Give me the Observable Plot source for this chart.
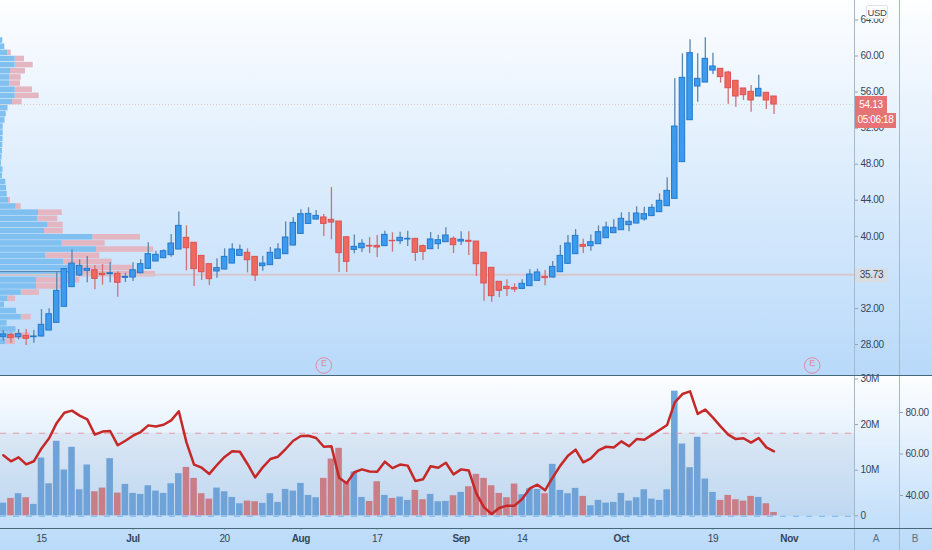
<!DOCTYPE html>
<html>
<head>
<meta charset="utf-8">
<script src="https://cdn.jsdelivr.net/npm/d3@7"></script>
<script src="https://cdn.jsdelivr.net/npm/@observablehq/plot@0.6"></script>
<style>
html,body{margin:0;padding:0;background:#fff;}
#chart{position:relative;width:932px;height:550px;overflow:hidden;
background:linear-gradient(to bottom,#fdfeff 0,#b8d9fa 376px,#fdfeff 376px,#b9daf9 550px);
font-family:"Liberation Sans",sans-serif;}
#chart svg{position:absolute;left:0;background:transparent;}
.ln{position:absolute;}
.badge{position:absolute;text-align:center;font-size:10px;letter-spacing:-.35px;box-sizing:border-box;}
</style>
</head>
<body>
<div id="chart"></div>
<script>
const firstIndex = -5;
const opens = [
28.85,29.04,28.81,28.96,28.81,
28.89,29.55,30.40,32.18,34.36,
35.65,36.17,36.24,35.84,35.80,
35.84,35.39,35.43,35.91,36.39,
37.21,37.58,37.91,38.54,39.83,
39.28,37.83,36.91,36.10,36.32,
36.98,37.83,38.17,37.72,36.69,
36.80,37.50,38.02,38.98,40.27,
41.38,41.86,42.09,41.83,41.64,
39.90,38.50,38.68,38.94,38.94,
38.91,39.50,39.46,39.65,39.72,
38.91,38.57,39.13,39.35,39.72,
39.42,39.50,39.42,38.17,36.50,
34.95,34.40,34.28,34.17,34.47,
35.06,35.50,35.43,36.02,36.95,
38.02,39.05,38.91,39.13,39.79,
40.35,40.68,41.24,41.42,41.87,
42.24,42.68,43.34,44.16,48.23,
52.88,56.62,57.06,58.39,58.58,
58.17,57.25,56.40,56.03,55.51,
55.92,55.51];
const closes = [
29.11,28.70,29.15,28.63,28.89,
30.18,31.36,33.95,36.36,36.98,
36.72,36.39,35.28,35.69,35.91,
34.84,35.50,36.24,36.91,38.02,
37.95,38.35,39.20,41.16,38.68,
36.36,36.02,35.25,36.47,37.72,
38.54,38.50,37.35,35.65,36.98,
38.17,38.54,39.87,41.49,42.45,
42.49,42.27,41.38,41.53,38.13,
37.17,38.83,39.17,38.87,38.76,
40.16,39.46,39.83,39.72,38.17,
38.28,39.65,39.57,40.09,39.02,
39.61,39.39,36.91,34.77,33.36,
33.95,34.14,34.10,34.73,35.76,
35.99,35.36,36.61,37.83,39.20,
40.05,38.83,39.35,40.46,40.98,
40.94,41.94,41.61,42.53,42.46,
43.16,43.94,45.04,52.18,57.58,
60.32,57.47,59.69,58.84,57.66,
56.43,55.51,55.66,55.07,56.36,
55.07,54.62];
const highs = [
29.55,29.26,29.66,29.66,29.55,
31.88,31.96,35.95,36.43,38.50,
37.39,37.76,36.76,36.87,37.09,
36.06,35.91,37.06,37.39,39.28,
38.35,38.50,40.20,42.71,41.16,
39.28,37.83,36.91,37.50,38.61,
39.17,39.05,38.61,37.72,37.80,
38.76,39.17,41.60,42.05,42.94,
43.16,42.86,42.42,45.41,41.64,
39.90,40.16,39.61,39.87,40.09,
40.57,40.39,40.46,40.57,39.72,
39.05,40.42,40.13,40.94,39.94,
40.50,40.50,39.42,38.17,36.50,
34.95,35.17,34.73,35.17,36.28,
36.36,36.21,37.21,38.98,40.09,
40.75,39.68,40.16,41.16,41.57,
41.83,42.61,42.64,43.27,43.23,
43.53,44.71,46.49,57.47,60.24,
61.80,60.24,62.02,60.32,58.58,
58.32,57.25,56.40,56.73,57.87,
55.92,55.51];
const lows = [
28.37,28.15,28.52,27.89,28.15,
28.81,29.52,30.40,32.18,34.36,
35.54,34.84,34.06,34.58,34.84,
33.25,34.88,34.99,35.84,36.36,
37.17,37.50,37.69,38.50,36.17,
34.43,35.10,34.54,35.36,36.28,
36.95,37.76,35.95,34.99,36.13,
36.76,37.46,37.98,38.94,40.24,
41.31,41.83,39.98,39.61,35.99,
35.99,38.06,38.20,38.09,37.65,
38.87,38.24,39.09,38.87,37.21,
37.32,38.54,38.54,39.31,38.09,
38.98,37.87,35.54,32.81,32.70,
33.18,33.32,33.77,34.14,34.43,
35.02,34.51,35.39,35.99,36.91,
37.98,38.09,38.35,39.09,39.76,
40.31,40.65,40.50,41.39,41.68,
42.20,42.64,43.31,44.16,48.23,
52.88,54.88,57.06,57.95,56.99,
54.66,54.33,55.07,53.77,55.47,
54.07,53.51];
const volumesM = [
2.78,3.81,4.84,3.96,2.49,
12.67,7.03,16.34,10.04,15.02,
5.71,11.14,5.27,6.08,12.53,
4.98,6.89,4.91,4.69,6.59,
5.42,4.91,7.03,9.23,10.62,
8.21,4.84,3.66,6.08,5.27,
4.03,2.64,3.22,3.08,2.71,
4.84,2.93,5.79,5.42,7.11,
4.47,3.96,8.21,12.45,14.8,
7.25,9.6,4.03,3.15,7.47,
4.47,3.81,4.1,3.37,5.57,
3.52,4.69,3.08,3.15,4.4,
5.13,6.37,9.08,8.21,6.59,
4.91,3.96,6.96,4.62,5.93,
5.79,4.84,11.28,5.57,4.84,
6.01,4.25,2.2,3.37,2.78,
2.93,4.91,3.22,3.96,5.71,
3.66,3.37,5.71,27.33,15.75,
10.55,17.22,8.06,5.13,3.37,
4.47,3.52,3.22,4.25,4.03,
2.64,0.73];
const rsiValues = [
59.4,56.5,58.4,55.0,56.5,
62.7,67.6,75.0,79.9,80.9,
78.5,76.7,69.3,70.8,71.1,
64.2,66.4,68.8,70.6,73.8,
73.3,74.1,76.2,80.6,65.6,
54.9,53.4,50.4,54.7,58.6,
61.3,61.1,55.2,48.7,53.6,
57.6,58.7,62.4,66.4,68.7,
68.8,67.7,63.5,63.7,48.6,
45.9,51.2,52.6,51.6,51.5,
56.3,53.2,54.9,54.4,47.0,
47.8,54.1,53.4,55.8,50.2,
52.6,52.0,40.9,34.3,31.1,
34.0,35.1,35.1,38.3,43.4,
45.2,42.5,48.7,54.4,59.2,
62.1,56.0,57.9,61.8,63.5,
63.1,66.1,63.7,67.2,66.9,
69.2,71.6,74.0,84.9,88.9,
90.2,79.3,81.4,77.5,73.3,
69.3,67.2,67.6,65.5,67.7,
63.2,61.3];
// visible-range volume profile, top row first
const profileTopPrice = 62.06;
const profileRowHeight = 0.682;
const profileBuy = [
2.3,4.3,7.3,14.7,14.7,10,9.3,9.3,14.7,14.7,
12,7.3,5.7,4.5,2.7,2.7,2.5,2.3,2,1.5,
1,2.5,2,5.3,6,6.7,8,15.7,38,37.3,
47.7,44,92.3,61.7,96,45.3,63,70,70,36,
36,20.7,7.3,4,16,20.7,6.7,15,13,5];
const profileTotal = [
2.3,4.3,10.7,24,32.7,25,20.7,20,32,38.7,
21.7,7.7,5.7,4.5,2.7,2.7,2.5,2.3,2,1.5,
1,2.5,2,5.3,6,6.7,10,20.7,61.7,57.3,
62.7,62.7,140,104.7,153.3,99.3,111.7,132,155,79.3,
62.7,39,15,4,16,30.7,6.7,16,30,15];
const priceTicks = [28,32,40,44,48,52,56,60,64];
const volumeTicks = [0,10,20,30];
const rsiTicks = [40,60,80];
const dayTickIndex = [0,24,44,63,88];
const dayTickLabels = ["15","20","17","14","19"];
const monthTickIndex = [12,34,55,76,98];
const monthTickLabels = ["Jul","Aug","Sep","Oct","Nov"];
const earningsIndex = [37,101];
const keyLevel = 35.73, lastLine = 54.62, pocPrice = 36.1;
const rsiUpper = 70, rsiLower = 30;

const BLUE="#3d9bee", BLUE_EDGE="#2478cc", BLUE_WICK="#5a86b0";
const RED="#ee6a5f", RED_EDGE="#dc5254", RED_WICK="#cc7378";
const VOL_BLUE="#6fa7dd", VOL_RED="#d27e86";
const TEXT="#33465a";
const FONT='"Liberation Sans",sans-serif';

const candles = opens.map((o,j)=>({i:firstIndex+j,open:o,close:closes[j],high:highs[j],low:lows[j],
  vol:volumesM[j],rsi:rsiValues[j],up:closes[j]>=o}));
const rows = profileBuy.map((b,k)=>({b,t:profileTotal[k],
  top:profileTopPrice-k*profileRowHeight,bot:profileTopPrice-(k+1)*profileRowHeight}));

const chart=document.getElementById("chart");
const XL=-5.37, XR=106.55, XR2=112.45;
function add(svg,top){svg.style.top=top+"px";chart.appendChild(svg);}
const base={width:932,marginLeft:0,marginTop:0,style:{fontFamily:FONT,fontSize:"10px",letterSpacing:"-.35px",color:TEXT,background:"transparent",overflow:"visible"}};

// volume profile
add(Plot.plot({...base,height:376,marginRight:0,marginBottom:0,
  x:{domain:[0,932],axis:null},y:{domain:[24.45,66.16],axis:null},
  marks:[
    Plot.rect(rows.filter(r=>r.t>r.b),{x1:"b",x2:"t",y1:"bot",y2:"top",fill:"#e3b6c1",insetTop:.3,insetBottom:.3}),
    Plot.rect(rows,{x1:0,x2:"b",y1:"bot",y2:"top",fill:"#7fc0f1",insetTop:.3,insetBottom:.3}),
    Plot.ruleY([pocPrice],{x1:()=>0,x2:()=>68,stroke:"#5a88b0",strokeWidth:1.2})
  ]}),0);

// price pane
add(Plot.plot({...base,height:376,marginRight:78,marginBottom:0,
  x:{domain:[XL,XR],axis:null},y:{domain:[24.45,66.16],label:null},
  marks:[
    Plot.ruleY([keyLevel],{stroke:"#d9c8cb",strokeWidth:2}),
    Plot.ruleY([lastLine],{stroke:"#dccdcd",strokeWidth:1,strokeDasharray:"1 2"}),
    Plot.ruleX(candles,{x:"i",y1:"low",y2:"high",stroke:d=>d.up?BLUE_WICK:RED_WICK,strokeWidth:1.3}),
    Plot.rect(candles,{x1:d=>d.i-.36,x2:d=>d.i+.36,y1:"open",y2:"close",
      fill:d=>d.up?BLUE:RED,stroke:d=>d.up?BLUE_EDGE:RED_EDGE,strokeWidth:1}),
    Plot.dot(earningsIndex,{x:d=>d,frameAnchor:"bottom",dy:-11,r:7.8,stroke:"#e5899b",strokeWidth:1,fill:"none"}),
    Plot.text(earningsIndex,{x:d=>d,frameAnchor:"bottom",dy:-11,text:()=>"E",fill:"#dc8c9c",fontSize:9}),
    Plot.axisY(priceTicks,{anchor:"right",tickSize:3,tickPadding:3,tickFormat:d=>d.toFixed(2),label:null,stroke:"#8fa3b8",fill:TEXT})
  ]}),0);

// volume pane
add(Plot.plot({...base,height:174,marginRight:78,marginBottom:22,
  x:{domain:[XL,XR],label:null},y:{domain:[-2.785,30.55],label:null},
  marks:[
    Plot.rect(candles,{x1:d=>d.i-.43,x2:d=>d.i+.43,y1:()=>0,y2:"vol",fill:d=>d.up?VOL_BLUE:VOL_RED}),
    Plot.axisY(volumeTicks,{anchor:"right",tickSize:3,tickPadding:3,tickFormat:d=>d?d+"M":"0",label:null,stroke:"#8fa3b8",fill:TEXT}),
    Plot.axisX(dayTickIndex,{anchor:"bottom",tickSize:2,tickPadding:4,tickFormat:d=>dayTickLabels[dayTickIndex.indexOf(d)],label:null,stroke:"#8fa3b8",fill:TEXT}),
    Plot.axisX(monthTickIndex,{anchor:"bottom",tickSize:2,tickPadding:4,tickFormat:d=>monthTickLabels[monthTickIndex.indexOf(d)],label:null,stroke:"#8fa3b8",fill:TEXT,fontWeight:"bold"})
  ]}),376);

// RSI pane
add(Plot.plot({...base,height:174,marginRight:33,marginBottom:22,
  x:{domain:[XL,XR2],axis:null},y:{domain:[24.1,97.35],label:null},
  marks:[
    Plot.rect([0],{x1:()=>XL,x2:()=>XR,y1:()=>rsiLower,y2:()=>rsiUpper,fill:"#6d7f96",fillOpacity:.09}),
    Plot.ruleY([rsiUpper],{x1:()=>XL,x2:()=>XR,stroke:"#e79aa4",strokeWidth:1,strokeDasharray:"6 7"}),
    Plot.ruleY([rsiLower],{x1:()=>XL,x2:()=>XR,stroke:"#74b3ee",strokeWidth:1,strokeDasharray:"6 7"}),
    Plot.line(candles,{x:"i",y:"rsi",stroke:"#c62828",strokeWidth:2.5,strokeLinejoin:"round"}),
    Plot.axisY(rsiTicks,{anchor:"right",tickSize:3,tickPadding:3,tickFormat:d=>d.toFixed(2),label:null,stroke:"#8fa3b8",fill:TEXT})
  ]}),376);

// pane furniture
function div(css,text,cls){const e=document.createElement("div");e.className=cls||"ln";e.style.cssText=css;if(text)e.textContent=text;chart.appendChild(e);}
div("left:854px;top:0;width:1px;height:550px;background:#a5b9cc;");
div("left:899px;top:0;width:1px;height:550px;background:#a5b9cc;");
div("left:0;top:375px;width:932px;height:1.2px;background:#47687b;");
div("left:0;top:528px;width:932px;height:1px;background:#47687b;");
div("left:855px;top:96px;width:32px;height:17px;line-height:17px;background:#e57373;color:#fff;","54.13","badge");
div("left:855px;top:113px;width:41px;height:14.5px;line-height:14.5px;background:#e57373;color:#fff;","05:06:18","badge");
div("left:855px;top:267.5px;width:33px;height:14px;line-height:14px;background:#d9dde3;color:"+TEXT+";","35.73","badge");
div("left:866px;top:5px;width:22px;height:14px;line-height:13px;background:#fff;border:1px solid #dde3ea;border-radius:2px;color:"+TEXT+";font-size:9.5px;","USD","badge");
div("left:868px;top:532px;width:16px;height:14px;line-height:14px;color:#5b6f84;","A","badge");
div("left:907px;top:532px;width:16px;height:14px;line-height:14px;color:#5b6f84;","B","badge");
</script>
</body>
</html>
